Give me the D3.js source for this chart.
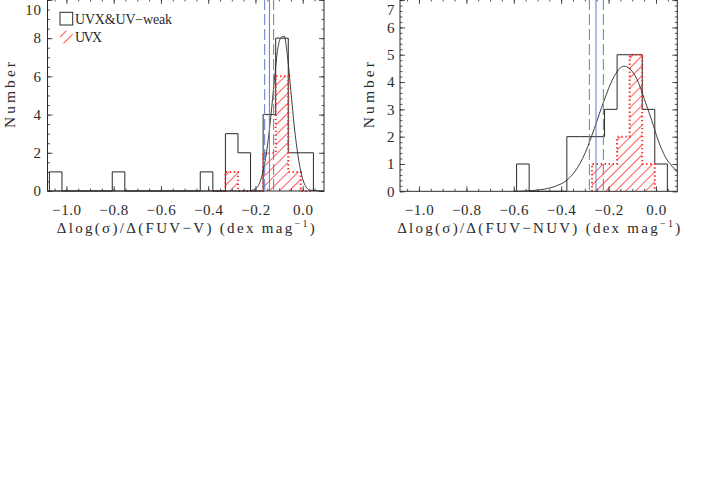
<!DOCTYPE html>
<html>
<head>
<meta charset="utf-8">
<script src="https://cdn.jsdelivr.net/npm/d3@7"></script>
<style>
  html, body { margin: 0; padding: 0; background: #fff; }
  svg { display: block; font-family: 'Liberation Serif', 'DejaVu Serif', serif; }
</style>
</head>
<body>
<svg id="chart" width="706" height="504"></svg>
<script>
const X_DOMAIN = [-1.08, 0.09];

// left panel: slope against FUV-V
const fuvVBinStart = -1.072;
const fuvVBinWidth = 0.0532;
const fuvVAll = [1, 0, 0, 0, 0, 1, 0, 0, 0, 0, 0, 0, 1, 0, 3, 2, 0, 4, 8, 2, 2];
const fuvVUvx = [null, null, null, null, null, null, null, null, null, null, null, null, null, 0, 1, 0, 0, 2, 6, 1, 0];
const fuvVFitX = [-1.08, -0.23, -0.20, -0.18, -0.165, -0.15, -0.135, -0.12, -0.105, -0.09, -0.078, -0.065, -0.05, -0.035, -0.02, -0.005, 0.01, 0.03, 0.09];
const fuvVFitY = [0, 0, 0.12, 0.5, 1.2, 2.3, 3.9, 5.8, 7.5, 8.05, 8.1, 7.1, 5.2, 3.3, 1.85, 0.85, 0.3, 0.05, 0];
const fuvVMean = -0.141;
const fuvVErr = [-0.161, -0.123];

// right panel: slope against FUV-NUV
const fuvNuvBinStart = -0.588;
const fuvNuvBinWidth = 0.053;
const fuvNuvAll = [1, 0, 0, 0, 2, 2, 2, 3, 5, 5, 3, 1];
const fuvNuvUvx = [null, null, null, null, null, null, 1, 1, 2, 5, 1];
const fuvNuvFitX = [-0.60, -0.52, -0.47, -0.42, -0.38, -0.34, -0.30, -0.26, -0.22, -0.18, -0.15, -0.135, -0.11, -0.08, -0.05, -0.02, 0.01, 0.04, 0.07, 0.09];
const fuvNuvFitY = [0, 0.03, 0.08, 0.2, 0.38, 0.75, 1.38, 2.3, 3.3, 4.15, 4.52, 4.58, 4.48, 4.1, 3.4, 2.65, 1.85, 1.25, 0.9, 0.7];
const fuvNuvMean = -0.253;
const fuvNuvErr = [-0.281, -0.222];

const legendLabels = ['UVX&UV\u2212weak', 'UVX'];

const INK = '#2a2a2a';
const RED = '#ff3030';
const BLUE = '#5b80c8';
const FONT = "'Liberation Serif', 'DejaVu Serif', serif";

const svg = d3.select('#chart');

svg.append('defs').append('pattern')
  .attr('id', 'hatch')
  .attr('patternUnits', 'userSpaceOnUse')
  .attr('width', 7)
  .attr('height', 7)
  .attr('patternTransform', 'rotate(45)')
  .append('line')
  .attr('x1', 3.5).attr('y1', 0)
  .attr('x2', 3.5).attr('y2', 7)
  .attr('stroke', '#ff5c5c')
  .attr('stroke-width', 1);

// outline of a histogram as steps, skipping empty (null) bins
const stepPoints = (start, width, counts) => {
  const pts = [];
  counts.forEach((c, i) => {
    if (c == null) return;
    const x0 = start + i * width;
    if (!pts.length) pts.push([x0, 0]);
    pts.push([x0, c], [x0 + width, c]);
  });
  pts.push([pts[pts.length - 1][0], 0]);
  return pts;
};

function drawPanel(p) {
  const g = svg.append('g');

  const x = d3.scaleLinear().domain(X_DOMAIN).range([p.left, p.right]);
  const y = d3.scaleLinear().domain([0, p.yMax]).range([p.bottom, p.top]);

  const line = d3.line().x(d => x(d[0])).y(d => y(d[1]));

  // UVX hatched histogram
  const uvx = stepPoints(p.binStart, p.binWidth, p.uvx);
  g.append('path')
    .attr('d', line(uvx) + 'Z')
    .attr('fill', 'url(#hatch)')
    .attr('stroke', 'none');

  // all galaxies
  g.append('path')
    .attr('d', line(stepPoints(p.binStart, p.binWidth, p.all)))
    .attr('fill', 'none')
    .attr('stroke', INK)
    .attr('stroke-width', 1);

  g.append('path')
    .attr('d', line(uvx))
    .attr('fill', 'none')
    .attr('stroke', RED)
    .attr('stroke-width', 2)
    .attr('stroke-dasharray', '1.4,2.6');

  // gaussian fit
  g.append('path')
    .datum(d3.zip(p.fitX, p.fitY))
    .attr('d', d3.line().x(d => x(d[0])).y(d => y(d[1])).curve(d3.curveMonotoneX))
    .attr('fill', 'none')
    .attr('stroke', INK)
    .attr('stroke-width', 0.9);

  // mean slope and its error
  g.append('line')
    .attr('x1', x(p.mean)).attr('x2', x(p.mean))
    .attr('y1', p.top).attr('y2', p.bottom)
    .attr('stroke', BLUE)
    .attr('stroke-width', 1);

  g.selectAll('line.err')
    .data(p.err)
    .join('line')
    .attr('class', 'err')
    .attr('x1', d => x(d)).attr('x2', d => x(d))
    .attr('y1', p.top).attr('y2', p.bottom)
    .attr('stroke', BLUE)
    .attr('stroke-width', 1)
    .attr('stroke-dasharray', '11,4');

  // axes on all four sides, ticks pointing inward
  const axes = [
    [d3.axisBottom(x), `translate(0,${p.bottom})`, x, 6, 24, true],
    [d3.axisTop(x), `translate(0,${p.top})`, x, 6, 24, false],
    [d3.axisLeft(y), `translate(${p.left},0)`, y, p.yMajor, p.yMinor, true],
    [d3.axisRight(y), `translate(${p.right},0)`, y, p.yMajor, p.yMinor, false],
  ];

  axes.forEach(([axis, tr, scale, nMajor, nMinor, labelled]) => {
    g.append('g')
      .attr('transform', tr)
      .call(axis.tickValues(scale.ticks(nMinor)).tickSizeInner(-2.5).tickSizeOuter(0).tickFormat(''))
      .call(a => a.select('.domain').remove());

    const major = axis.tickValues(scale.ticks(nMajor)).tickSizeInner(-5).tickSizeOuter(0);
    if (scale === x) major.tickFormat(d3.format('.1f')).tickPadding(13.5);
    else major.tickFormat(d3.format('d')).tickPadding(p.yPad);
    if (!labelled) major.tickFormat('');

    const ag = g.append('g')
      .attr('transform', tr)
      .call(major)
      .call(a => a.select('.domain').remove());

    ag.selectAll('text')
      .attr('fill', INK)
      .attr('font-size', 15)
      .attr('letter-spacing', '0.6px')
      .attr('font-family', FONT);

    // the top y label would stick out of the page, nudge it down
    if (scale === y) {
      ag.selectAll('.tick')
        .filter(d => d === p.yTop)
        .select('text')
        .attr('y', 9.5);
    }
  });

  g.selectAll('.tick line').attr('stroke', INK).attr('stroke-width', 0.8);

  // frame
  g.append('rect')
    .attr('x', p.left).attr('y', p.top)
    .attr('width', p.right - p.left)
    .attr('height', p.bottom - p.top)
    .attr('fill', 'none')
    .attr('stroke', INK)
    .attr('stroke-width', 1);

  // titles
  g.append('text')
    .attr('transform', `translate(${p.yTitleX},${(p.top + p.bottom) / 2}) rotate(-90)`)
    .attr('text-anchor', 'middle')
    .attr('font-size', 15.5)
    .attr('fill', INK)
    .attr('textLength', 66)
    .attr('lengthAdjust', 'spacing')
    .text('Number');

  const title = g.append('text')
    .attr('x', (p.left + p.right) / 2)
    .attr('y', 233)
    .attr('text-anchor', 'middle')
    .attr('font-size', 15)
    .attr('fill', INK)
    .attr('textLength', p.titleLength)
    .attr('lengthAdjust', 'spacing');
  title.append('tspan').text(`\u0394log(\u03c3)/\u0394(${p.colour}) (dex mag`);
  title.append('tspan').attr('font-size', 10).attr('dy', -6).text('\u22121');
  title.append('tspan').attr('dy', 6).text(')');

  return g;
}

const left = drawPanel({
  left: 47.5, right: 324, top: -1, bottom: 191,
  yMax: 10.05, yTop: 10, yMajor: 5, yMinor: 20, yPad: 6, yTitleX: 14.5,
  binStart: fuvVBinStart, binWidth: fuvVBinWidth,
  all: fuvVAll, uvx: fuvVUvx,
  fitX: fuvVFitX, fitY: fuvVFitY,
  mean: fuvVMean, err: fuvVErr,
  colour: 'FUV\u2212V', titleLength: 258,
});

drawPanel({
  left: 400, right: 677.3, top: -1, bottom: 191.3,
  yMax: 7.04, yTop: 7, yMajor: 7, yMinor: 35, yPad: 5, yTitleX: 374,
  binStart: fuvNuvBinStart, binWidth: fuvNuvBinWidth,
  all: fuvNuvAll, uvx: fuvNuvUvx,
  fitX: fuvNuvFitX, fitY: fuvNuvFitY,
  mean: fuvNuvMean, err: fuvNuvErr,
  colour: 'FUV\u2212NUV', titleLength: 283,
});

// legend
const legend = left.append('g').attr('transform', 'translate(60,12.3)');

legend.selectAll('rect')
  .data(legendLabels)
  .join('rect')
  .attr('x', 0)
  .attr('y', (d, i) => i * 18.4)
  .attr('width', 12.7)
  .attr('height', 12.7)
  .attr('fill', (d, i) => i ? 'url(#hatch)' : 'none')
  .attr('stroke', (d, i) => i ? 'none' : INK)
  .attr('stroke-width', 1);

legend.selectAll('text')
  .data(legendLabels)
  .join('text')
  .attr('x', 15)
  .attr('y', (d, i) => 11.4 + i * 18.4)
  .attr('font-size', 14)
  .attr('fill', INK)
  .attr('textLength', (d, i) => i ? 27 : 97)
  .attr('lengthAdjust', 'spacing')
  .text(d => d);
</script>
</body>
</html>
